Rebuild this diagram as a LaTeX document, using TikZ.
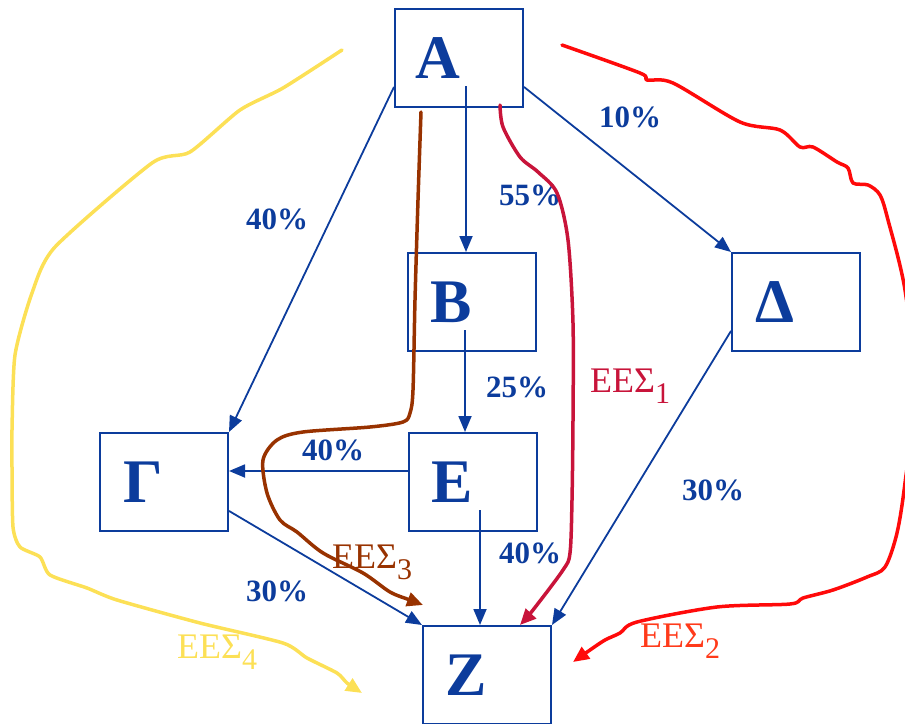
\documentclass[tikz,border=0pt]{standalone}
\usepackage{fontspec}
\setmainfont{Liberation Serif}
\usepackage{tikz}
\usetikzlibrary{arrows.meta,calc}
\definecolor{acc}{HTML}{0C3C9C}
\definecolor{crim}{HTML}{C8143A}
\definecolor{hot}{HTML}{FF0A0A}
\definecolor{hottxt}{HTML}{FF3A1A}
\definecolor{rust}{HTML}{983200}
\definecolor{sun}{HTML}{FCE056}
\newcommand{\ees}[1]{ΕΕΣ\raisebox{-11pt}{\fontsize{30}{30}\selectfont #1}}
\tikzset{
  blk/.style={draw=acc,line width=2pt,minimum width=128pt,minimum height=98pt,inner sep=0pt,
    text=acc,font=\fontsize{62}{70}\selectfont\bfseries,execute at end node={\hspace*{42pt}}},
  pct/.style={text=acc,font=\fontsize{31}{34}\selectfont\bfseries,inner sep=0pt},
  tag/.style={font=\fontsize{36}{40}\selectfont,inner sep=0pt,anchor=base west},
  arr/.style={-{Triangle[length=16pt,width=13pt]},line width=1.8pt,acc},
  trail/.style={line width=3.5pt,line cap=round,line join=round,-{Triangle[length=16pt,width=14pt]}},
}
\begin{document}
\begin{tikzpicture}[x=1pt,y=-1pt]
\useasboundingbox (0,0) rectangle (905,723);
% boxes
\node[blk] (A) at (459,58) {Α};
\node[blk] (B) at (472,302) {Β};
\node[blk] (D) at (796,302) {Δ};
\node[blk] (G) at (164,482) {Γ};
\node[blk] (E) at (473,482) {Ε};
\node[blk] (Z) at (487,675) {Ζ};
% flows
\draw[arr] (A.204) -- (G.north east);
\draw[arr] ([shift={(7,28)}]A.center) -- ([xshift=-6pt]B.north);
\draw[arr] (A.-24) -- (D.north west);
\draw[arr] ([shift={(-7,28)}]B.center) -- ([xshift=-8pt]E.north);
\draw[arr] ([yshift=11pt]E.west) -- ([yshift=11pt]G.east);
\draw[arr] ([shift={(7,28)}]E.center) -- ([xshift=-7pt]Z.north);
\draw[arr] (G.-24) -- (Z.north west);
\draw[arr] (D.204) -- (Z.north east);
% shares
\node[pct] (pAG) at (277,219) {40\%};
\node[pct] (pAB) at (530,195) {55\%};
\node[pct] (pAD) at (630,117) {10\%};
\node[pct] (pBE) at (517,387) {25\%};
\node[pct] (pEG) at (333,450) {40\%};
\node[pct] (pDZ) at (713,490) {30\%};
\node[pct] (pEZ) at (530,553) {40\%};
\node[pct] (pGZ) at (277,591) {30\%};
% trails
\coordinate (s1) at (500,105); \coordinate (t1) at (520,625);
\coordinate (s2) at (562,45);  \coordinate (t2) at (573,662);
\coordinate (s3) at (421,112); \coordinate (t3) at (423,605);
\coordinate (s4) at (342,50);  \coordinate (t4) at (362,693);
\draw[trail,crim] plot[smooth,tension=0.5] coordinates {(s1) (503,127) (520,157) (538,172) (557,193)
  (568,240) (573,323) (573,420) (572,500) (570,553) (563,570) (533,610) (t1)};
\draw[trail,hot] plot[smooth,tension=0.5] coordinates {(s2) (640,73) (647,80) (673,83) (740,122)
  (780,130) (800,147) (813,147) (837,162) (848,168) (853,183) (868,185) (880,195) (888,220)
  (905,290) (915,390) (905,483) (897,533) (885,567) (867,577) (833,590) (803,598) (790,604)
  (717,607) (637,622) (620,633) (605,640) (590,650) (t2)};
\draw[trail,rust] plot[smooth,tension=0.5] coordinates {(s3) (418,200) (415,300) (413,390) (410,413)
  (403,422) (370,427) (303,432) (277,440) (263,460) (267,493) (280,520) (297,532) (323,553)
  (363,573) (390,592) (410,600) (t3)};
\draw[trail,sun] plot[smooth,tension=0.4] coordinates {(s4) (283,88) (240,110) (190,152) (152,163)
  (55,247) (32,293) (15,355) (12,430) (12,467) (13,527) (20,547) (40,557) (50,575) (87,588)
  (117,600) (200,623) (283,643) (307,658) (337,673) (347,683) (t4)};
% labels
\node[tag,text=crim] (e1) at (590,392) {\ees{1}};
\node[tag,text=hottxt] (e2) at (640,647) {\ees{2}};
\node[tag,text=rust] (e3) at (332,568) {\ees{3}};
\node[tag,text=sun] (e4) at (177,658) {\ees{4}};
\end{tikzpicture}
\end{document}
